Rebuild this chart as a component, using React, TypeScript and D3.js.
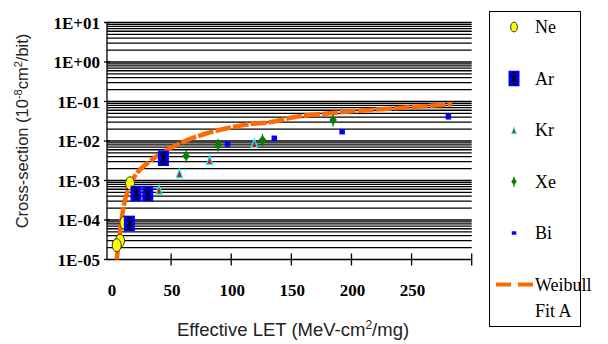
import * as d3 from 'd3'
import { useEffect, useRef } from 'react'

// measured points, LET (MeV-cm2/mg) vs cross-section (1e-8 cm2/bit)
const neLET = [15.8, 11.1, 7.5, 4.75]
const neSigma = [8.5e-4, 8.5e-5, 3.0e-5, 2.3e-5]
const arLET = [20.8, 30.6, 15.3, 43.6]
const arSigma = [4.7e-4, 4.7e-4, 8.2e-5, 3.65e-3]
const krLET = [40, 56.9, 82, 119.2]
const krSigma = [6.0e-4, 1.57e-3, 3.4e-3, 9.1e-3]
const xeLET = [62.5, 89, 126, 184.7]
const xeSigma = [4.2e-3, 7.9e-3, 1.06e-2, 3.4e-2]
const biLET = [96.9, 135.8, 192.25, 280.6]
const biSigma = [8.4e-3, 1.17e-2, 1.72e-2, 4.1e-2]

// Weibull fit curve
const fitLET = [4.75, 10.25, 15.8, 21.4, 32, 46.4, 60.25, 79.75, 96.4, 115.8, 129.75, 151.9, 179.75, 207.5, 235.25, 263.1, 283.9]
const fitSigma = [1e-5, 1.98e-4, 7.7e-4, 1.52e-3, 3.0e-3, 5.9e-3, 9.6e-3, 1.57e-2, 2.1e-2, 2.7e-2, 2.9e-2, 3.98e-2, 5.0e-2, 5.85e-2, 6.7e-2, 7.7e-2, 8.5e-2]

const xTickValues = [0, 50, 100, 150, 200, 250]
const yTickValues = [1e-5, 1e-4, 1e-3, 1e-2, 1e-1, 1, 10]
const yTickLabels = ['1E-05', '1E-04', '1E-03', '1E-02', '1E-01', '1E+00', '1E+01']
const legendNames = ['Ne', 'Ar', 'Kr', 'Xe', 'Bi']

const ORANGE = '#ff6a00'
const SERIF = '"Liberation Serif", "Times New Roman", serif'
const SANS = '"Liberation Sans", Arial, sans-serif'

type Sel = d3.Selection<SVGGElement, unknown, null, undefined>

const drawMarker = (g: Sel, kind: string, cx: number, cy: number, big: boolean) => {
    const k = big ? 1 : 0.75
    if (kind === 'Ne') {
        g.append('ellipse')
            .attr('cx', cx).attr('cy', cy)
            .attr('rx', 4.5 * k).attr('ry', 6.5 * k)
            .attr('fill', '#ffff00')
            .attr('stroke', '#333')
            .attr('stroke-width', 1)
    } else if (kind === 'Ar') {
        const w = 11, h = 15.5
        g.append('rect')
            .attr('x', cx - w / 2).attr('y', cy - h / 2)
            .attr('width', w).attr('height', h)
            .attr('fill', '#0000ff')
        const p = d3.path()
        p.moveTo(cx, cy - h / 2 + 2); p.lineTo(cx, cy + h / 2 - 2)
        p.moveTo(cx - 2.5, cy - h / 2 + 2); p.lineTo(cx + 2.5, cy - h / 2 + 2)
        p.moveTo(cx - 2.5, cy + h / 2 - 2); p.lineTo(cx + 2.5, cy + h / 2 - 2)
        p.moveTo(cx - 3.5, cy - 4); p.lineTo(cx + 3.5, cy + 4)
        p.moveTo(cx + 3.5, cy - 4); p.lineTo(cx - 3.5, cy + 4)
        g.append('path').attr('d', p.toString()).attr('stroke', '#000').attr('stroke-width', 1.2).attr('fill', 'none')
    } else if (kind === 'Kr') {
        const w = 8 * k, h = 11 * k
        g.append('path')
            .attr('d', `M${cx},${cy - h / 2}L${cx + w / 2},${cy + h / 2}L${cx - w / 2},${cy + h / 2}Z`)
            .attr('fill', '#00ffff')
        g.append('path')
            .attr('d', `M${cx},${cy - h / 2 + 3.5 * k}L${cx + w / 2 - 1.8 * k},${cy + h / 2 - 1.2}L${cx - w / 2 + 1.8 * k},${cy + h / 2 - 1.2}Z`)
            .attr('fill', '#ff0000')
    } else if (kind === 'Xe') {
        const w = 7.5 * k, h = 10 * k
        g.append('path')
            .attr('d', `M${cx},${cy - h / 2}L${cx + w / 2},${cy}L${cx},${cy + h / 2}L${cx - w / 2},${cy}Z`)
            .attr('fill', '#008000')
        g.append('line')
            .attr('x1', cx).attr('x2', cx)
            .attr('y1', cy - h / 2 - 1).attr('y2', cy + h / 2 + 1.5)
            .attr('stroke', '#008000').attr('stroke-width', 1.2)
    } else {
        const s = big ? 5.5 : 4.5
        g.append('rect')
            .attr('x', cx - s / 2).attr('y', cy - s / 2 + (big ? 0 : 0.5))
            .attr('width', s).attr('height', big ? s : s - 1)
            .attr('fill', '#0000ff')
    }
}

const createChart = (svgEl: SVGSVGElement) => {
    const root = d3.select(svgEl)
    root.selectAll('*').remove()
    const svg = root.append('g') as Sel

    const x = d3.scaleLinear().domain([-3.33, 300]).range([107, 471.7])
    const y = d3.scaleLog().domain([1e-5, 10]).range([259.5, 22.5])

    // horizontal grid, every 1..9 within each decade
    const gridVals: number[] = []
    for (let e = -5; e < 1; e++) {
        for (let m = 1; m <= 9; m++) gridVals.push(m * Math.pow(10, e))
    }
    gridVals.push(10)
    svg.append('g')
        .selectAll('line')
        .data(gridVals.filter(v => v > 1e-5))
        .enter()
        .append('line')
        .attr('x1', x(-3.33))
        .attr('x2', x(300))
        .attr('y1', d => y(d))
        .attr('y2', d => y(d))
        .attr('stroke', '#000')
        .attr('stroke-width', 1.3)

    // axes
    svg.append('line')
        .attr('x1', x(-3.33)).attr('x2', x(-3.33))
        .attr('y1', y(10)).attr('y2', y(1e-5))
        .attr('stroke', '#000').attr('stroke-width', 1.3)
    svg.append('line')
        .attr('x1', x(-3.33)).attr('x2', x(300))
        .attr('y1', y(1e-5)).attr('y2', y(1e-5))
        .attr('stroke', '#000').attr('stroke-width', 1.3)

    svg.append('g')
        .selectAll('line')
        .data([50, 100, 150, 200, 250, 300])
        .enter()
        .append('line')
        .attr('x1', d => x(d)).attr('x2', d => x(d))
        .attr('y1', y(1e-5) - 6).attr('y2', y(1e-5) + 6)
        .attr('stroke', '#000').attr('stroke-width', 1.3)

    svg.append('g')
        .selectAll('line')
        .data(yTickValues)
        .enter()
        .append('line')
        .attr('x1', x(-3.33) - 3).attr('x2', x(-3.33) + 3)
        .attr('y1', d => y(d)).attr('y2', d => y(d))
        .attr('stroke', '#000').attr('stroke-width', 1.3)

    svg.append('g')
        .selectAll('text')
        .data(yTickValues)
        .enter()
        .append('text')
        .attr('x', 100)
        .attr('y', d => y(d) + 6)
        .attr('text-anchor', 'end')
        .attr('font-family', SERIF)
        .attr('font-weight', 'bold')
        .attr('font-size', 17)
        .attr('fill', '#000')
        .text((d, i) => yTickLabels[i])

    svg.append('g')
        .selectAll('text')
        .data(xTickValues)
        .enter()
        .append('text')
        .attr('x', d => x(d) + 1)
        .attr('y', 296)
        .attr('text-anchor', 'middle')
        .attr('font-family', SERIF)
        .attr('font-weight', 'bold')
        .attr('font-size', 17)
        .attr('fill', '#000')
        .text(d => d)

    // axis titles
    const xt = svg.append('text')
        .attr('x', 293)
        .attr('y', 336)
        .attr('text-anchor', 'middle')
        .attr('font-family', SANS)
        .attr('font-size', 18.5)
        .attr('fill', '#222')
    xt.append('tspan').text('Effective LET (MeV-cm')
    xt.append('tspan').attr('font-size', 12).attr('dy', -7).text('2')
    xt.append('tspan').attr('dy', 7).text('/mg)')

    const yt = svg.append('text')
        .attr('transform', 'translate(28,131) rotate(-90)')
        .attr('text-anchor', 'middle')
        .attr('font-family', SANS)
        .attr('font-size', 16.5)
        .attr('fill', '#222')
    yt.append('tspan').text('Cross-section (10')
    yt.append('tspan').attr('font-size', 11).attr('dy', -6).text('-8')
    yt.append('tspan').attr('dy', 6).text('cm')
    yt.append('tspan').attr('font-size', 11).attr('dy', -6).text('2')
    yt.append('tspan').attr('dy', 6).text('/bit)')

    // weibull fit
    const fitData = fitLET.map((l, i) => [l, fitSigma[i]] as [number, number])
    const line = d3.line<[number, number]>()
        .x(d => x(d[0]))
        .y(d => y(d[1]))
        .curve(d3.curveMonotoneX)
    svg.append('path')
        .datum(fitData)
        .attr('d', line)
        .attr('fill', 'none')
        .attr('stroke', ORANGE)
        .attr('stroke-width', 4.5)
        .attr('stroke-dasharray', '16,2')

    // data points
    const series = [
        { name: 'Bi', lets: biLET, sig: biSigma },
        { name: 'Xe', lets: xeLET, sig: xeSigma },
        { name: 'Kr', lets: krLET, sig: krSigma },
        { name: 'Ne', lets: neLET, sig: neSigma },
        { name: 'Ar', lets: arLET, sig: arSigma },
    ]
    const pts = svg.append('g') as Sel
    series.forEach(s => {
        s.lets.forEach((l, i) => drawMarker(pts, s.name, x(l), y(s.sig[i]), true))
    })

    // legend
    const lg = svg.append('g') as Sel
    lg.append('rect')
        .attr('x', 489.5).attr('y', 11.5)
        .attr('width', 91).attr('height', 315)
        .attr('fill', '#fff')
        .attr('stroke', '#000')
        .attr('stroke-width', 1)
    const legendY = d3.scaleLinear().domain([0, 5]).range([27, 284.5])
    legendNames.forEach((n, i) => {
        drawMarker(lg, n, 514, legendY(i), n === 'Ar')
        lg.append('text')
            .attr('x', 535)
            .attr('y', legendY(i) + 6)
            .attr('font-family', SERIF)
            .attr('font-size', 18)
            .attr('fill', '#000')
            .text(n)
    })
    lg.append('line')
        .attr('x1', 496).attr('x2', 534)
        .attr('y1', legendY(5)).attr('y2', legendY(5))
        .attr('stroke', ORANGE)
        .attr('stroke-width', 4)
        .attr('stroke-dasharray', '15,7')
    lg.append('text')
        .attr('x', 535)
        .attr('y', legendY(5) + 6)
        .attr('font-family', SERIF)
        .attr('font-size', 18)
        .attr('fill', '#000')
        .text('Weibull')
    lg.append('text')
        .attr('x', 535)
        .attr('y', legendY(5) + 32)
        .attr('font-family', SERIF)
        .attr('font-size', 18)
        .attr('fill', '#000')
        .text('Fit A')
}

const App = () => {
    const ref = useRef<SVGSVGElement>(null)

    useEffect(() => {
        if (ref.current) createChart(ref.current)
    }, [])

    return (
        <svg
            ref={ref}
            width={608}
            height={344}
            style={{ position: 'absolute', left: 0, top: 0, background: '#fff' }}
        />
    )
}

export default App
